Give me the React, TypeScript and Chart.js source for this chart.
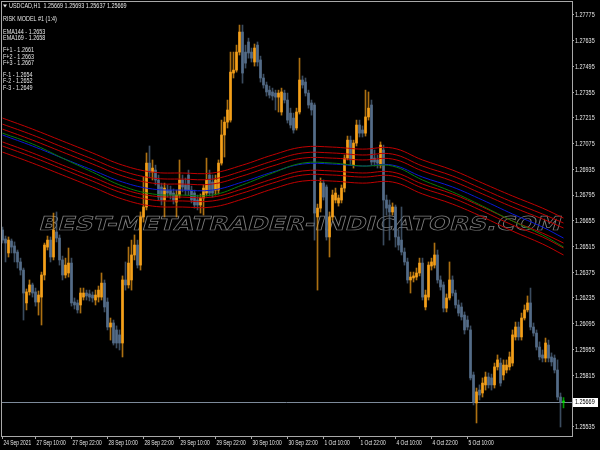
import React, { useEffect, useRef } from "react";
import { Chart, registerables } from "chart.js";

Chart.register(...registerables);

const symbolTitle = "USDCAD,H1";
const quoteOHLC = [1.25669, 1.25693, 1.25637, 1.25669];
const infoLines = [
  "RISK MODEL #1 (1:4)",
  "",
  "EMA144 - 1.2653",
  "EMA169 - 1.2658",
  "",
  "F+1 - 1.2661",
  "F+2 - 1.2663",
  "F+3 - 1.2667",
  "",
  "F-1 - 1.2654",
  "F-2 - 1.2652",
  "F-3 - 1.2649",
];
const watermarkText = "BEST-METATRADER-INDICATORS.COM";
const bidPrice = 1.25669;

const timeLabels = [
  "24 Sep 2021", "27 Sep 10:00", "27 Sep 22:00", "28 Sep 10:00", "28 Sep 22:00",
  "29 Sep 10:00", "29 Sep 22:00", "30 Sep 10:00", "30 Sep 22:00", "1 Oct 10:00",
  "1 Oct 22:00", "4 Oct 10:00", "4 Oct 22:00", "5 Oct 10:00",
];
const timeLabelBars = [0, 11, 23, 35, 47, 59, 71, 83, 95, 107, 119, 131, 143, 155];

const priceTicks = [
  1.27775, 1.27635, 1.27495, 1.27355, 1.27215, 1.27075, 1.26935, 1.26795,
  1.26655, 1.26515, 1.26375, 1.26235, 1.26095, 1.25955, 1.25815, 1.25535,
];
const priceMin = 1.25484;
const priceMax = 1.27851;
const barMin = -0.5;
const barMax = 189.83;

const opens = [
  1.26605,1.26556,1.26480,1.26545,1.26518,1.26485,1.26431,1.26387,1.26208,1.26268,
  1.26306,1.26268,1.26213,1.26240,1.26360,1.26512,1.26550,1.26458,1.26594,1.26561,
  1.26442,1.26360,1.26371,1.26425,1.26213,1.26208,1.26197,1.26240,1.26262,1.26257,
  1.26251,1.26224,1.26240,1.26240,1.26316,1.26213,1.26077,1.26099,1.26061,1.26034,
  1.25990,1.26333,1.26306,1.26333,1.26469,1.26523,1.26414,1.26676,1.26730,1.26969,
  1.26920,1.26931,1.26877,1.26839,1.26768,1.26822,1.26822,1.26806,1.26757,1.26795,
  1.26877,1.26850,1.26904,1.26822,1.26806,1.26768,1.26741,1.26779,1.26806,1.26904,
  1.26866,1.26822,1.26822,1.26969,1.27122,1.27192,1.27203,1.27459,1.27475,1.27573,
  1.27682,1.27573,1.27628,1.27573,1.27519,1.27611,1.27530,1.27432,1.27394,1.27366,
  1.27356,1.27350,1.27328,1.27247,1.27350,1.27312,1.27241,1.27214,1.27160,1.27247,
  1.27421,1.27410,1.27350,1.27296,1.27285,1.26676,1.26724,1.26860,1.26839,1.26567,
  1.26676,1.26768,1.26752,1.26768,1.26833,1.26996,1.27094,1.26958,1.27078,1.27176,
  1.27149,1.27132,1.27220,1.27285,1.26996,1.26986,1.26958,1.27040,1.26768,1.26741,
  1.26703,1.26730,1.26567,1.26550,1.26485,1.26431,1.26333,1.26344,1.26349,1.26371,
  1.26425,1.26186,1.26240,1.26409,1.26414,1.26469,1.26333,1.26306,1.26180,1.26235,
  1.26333,1.26262,1.26197,1.26186,1.26142,1.26115,1.26061,1.25816,1.25664,1.25734,
  1.25718,1.25762,1.25805,1.25800,1.25762,1.25860,1.25881,1.25816,1.25843,1.25860,
  1.25881,1.26023,1.26077,1.26023,1.26126,1.26170,1.26208,1.26077,1.26044,1.25968,
  1.25925,1.25908,1.25979,1.25914,1.25908,1.25843,1.25696,1.25669,
];
const highs = [
  1.26621,1.26572,1.26567,1.26556,1.26540,1.26496,1.26452,1.26398,1.26284,1.26333,
  1.26316,1.26289,1.26273,1.26376,1.26534,1.26572,1.26567,1.26697,1.26703,1.26578,
  1.26463,1.26452,1.26507,1.26452,1.26235,1.26224,1.26289,1.26289,1.26278,1.26278,
  1.26268,1.26278,1.26300,1.26371,1.26333,1.26235,1.26126,1.26115,1.26083,1.26061,
  1.26355,1.26431,1.26512,1.26550,1.26578,1.26550,1.26703,1.26893,1.27024,1.27062,
  1.26986,1.26958,1.26904,1.26860,1.26860,1.26850,1.26844,1.26828,1.26822,1.26986,
  1.26904,1.26888,1.26931,1.26844,1.26822,1.26795,1.26801,1.26850,1.26996,1.26931,
  1.26904,1.26904,1.26986,1.27203,1.27220,1.27312,1.27573,1.27573,1.27611,1.27720,
  1.27720,1.27611,1.27649,1.27595,1.27617,1.27628,1.27551,1.27453,1.27410,1.27388,
  1.27377,1.27366,1.27366,1.27377,1.27366,1.27350,1.27268,1.27241,1.27268,1.27540,
  1.27443,1.27432,1.27366,1.27312,1.27296,1.26746,1.26888,1.26877,1.26850,1.26703,
  1.26822,1.26833,1.26795,1.26850,1.27013,1.27116,1.27116,1.27094,1.27203,1.27203,
  1.27171,1.27366,1.27356,1.27312,1.27040,1.27013,1.27084,1.27067,1.26795,1.26768,
  1.26752,1.26741,1.26605,1.26730,1.26507,1.26452,1.26376,1.26376,1.26398,1.26452,
  1.26452,1.26278,1.26431,1.26452,1.26534,1.26496,1.26355,1.26322,1.26257,1.26431,
  1.26355,1.26278,1.26224,1.26208,1.26159,1.26137,1.26083,1.25832,1.25745,1.25762,
  1.25800,1.25832,1.25827,1.25821,1.25881,1.25925,1.25908,1.25898,1.25898,1.25941,
  1.26061,1.26104,1.26104,1.26153,1.26197,1.26246,1.26289,1.26099,1.26061,1.25996,
  1.25952,1.26017,1.26006,1.25936,1.25925,1.25898,1.25718,1.25693,
];
const lows = [
  1.26534,1.26431,1.26458,1.26480,1.26431,1.26398,1.26360,1.26115,1.26170,1.26251,
  1.26240,1.26191,1.26142,1.26088,1.26333,1.26496,1.26431,1.26442,1.26540,1.26414,
  1.26333,1.26344,1.26349,1.26191,1.26175,1.26153,1.26153,1.26224,1.26224,1.26219,
  1.26213,1.26197,1.26213,1.26224,1.26159,1.26061,1.26006,1.25979,1.25963,1.25952,
  1.25914,1.26278,1.26289,1.26278,1.26442,1.26398,1.26387,1.26648,1.26714,1.26888,
  1.26877,1.26850,1.26768,1.26741,1.26676,1.26784,1.26773,1.26746,1.26676,1.26779,
  1.26812,1.26795,1.26795,1.26752,1.26724,1.26714,1.26697,1.26686,1.26790,1.26790,
  1.26784,1.26795,1.26801,1.26958,1.27002,1.27160,1.27192,1.27432,1.27464,1.27557,
  1.27404,1.27486,1.27540,1.27519,1.27497,1.27497,1.27410,1.27377,1.27334,1.27323,
  1.27312,1.27258,1.27247,1.27230,1.27296,1.27187,1.27160,1.27132,1.27149,1.27236,
  1.27377,1.27334,1.27268,1.27230,1.26550,1.26278,1.26703,1.26768,1.26550,1.26458,
  1.26659,1.26752,1.26735,1.26752,1.26812,1.26986,1.26958,1.26942,1.27062,1.27111,
  1.27111,1.27116,1.27203,1.26958,1.26953,1.26942,1.26942,1.26523,1.26686,1.26550,
  1.26686,1.26512,1.26496,1.26469,1.26414,1.26316,1.26262,1.26322,1.26333,1.26355,
  1.26224,1.26170,1.26224,1.26387,1.26398,1.26316,1.26278,1.26159,1.26159,1.26224,
  1.26246,1.26180,1.26137,1.26115,1.26039,1.26061,1.25789,1.25653,1.25555,1.25680,
  1.25696,1.25734,1.25745,1.25734,1.25745,1.25843,1.25756,1.25789,1.25827,1.25843,
  1.25865,1.26006,1.26006,1.26006,1.26115,1.26159,1.26061,1.26028,1.25952,1.25898,
  1.25887,1.25887,1.25887,1.25865,1.25827,1.25680,1.25533,1.25637,
];
const closes = [
  1.26550,1.26534,1.26550,1.26512,1.26480,1.26431,1.26387,1.26262,1.26268,1.26306,
  1.26262,1.26213,1.26251,1.26360,1.26523,1.26550,1.26458,1.26605,1.26561,1.26442,
  1.26360,1.26414,1.26425,1.26208,1.26197,1.26170,1.26262,1.26262,1.26246,1.26240,
  1.26235,1.26251,1.26278,1.26316,1.26186,1.26077,1.26099,1.25990,1.25990,1.25990,
  1.26333,1.26306,1.26425,1.26469,1.26523,1.26414,1.26676,1.26730,1.26969,1.26920,
  1.26942,1.26877,1.26784,1.26768,1.26833,1.26806,1.26795,1.26768,1.26795,1.26877,
  1.26839,1.26822,1.26822,1.26768,1.26741,1.26741,1.26779,1.26833,1.26877,1.26806,
  1.26806,1.26877,1.26969,1.27122,1.27192,1.27258,1.27464,1.27475,1.27573,1.27682,
  1.27459,1.27513,1.27568,1.27540,1.27595,1.27519,1.27432,1.27394,1.27356,1.27339,
  1.27334,1.27328,1.27350,1.27356,1.27312,1.27203,1.27176,1.27149,1.27247,1.27421,
  1.27394,1.27350,1.27285,1.27258,1.26697,1.26724,1.26860,1.26784,1.26567,1.26676,
  1.26795,1.26806,1.26779,1.26833,1.26996,1.27094,1.26986,1.27078,1.27176,1.27132,
  1.27132,1.27220,1.27268,1.26975,1.26975,1.26969,1.27067,1.26768,1.26724,1.26703,
  1.26730,1.26567,1.26523,1.26485,1.26431,1.26333,1.26349,1.26355,1.26371,1.26425,
  1.26240,1.26251,1.26414,1.26431,1.26469,1.26333,1.26295,1.26180,1.26235,1.26333,
  1.26262,1.26197,1.26153,1.26132,1.26061,1.26077,1.25800,1.25669,1.25724,1.25707,
  1.25772,1.25805,1.25762,1.25762,1.25860,1.25898,1.25772,1.25870,1.25870,1.25914,
  1.26034,1.26077,1.26023,1.26126,1.26170,1.26208,1.26077,1.26044,1.25968,1.25914,
  1.25908,1.25990,1.25908,1.25887,1.25843,1.25696,1.25669,1.25669,
];

const lineBars = [0, 10, 20, 30, 40, 50, 60, 70, 80, 90, 100, 110, 120, 130, 140, 150, 160, 170, 180, 187];
const ema144 = [1.27132,1.27073,1.26996,1.26920,1.26844,1.26801,1.26795,1.26795,1.26850,1.26915,1.26969,1.26969,1.26953,1.26953,1.26877,1.26812,1.26735,1.26654,1.26578,1.26512];
const ema169 = [1.27122,1.27062,1.26996,1.26931,1.26866,1.26828,1.26822,1.26822,1.26866,1.26920,1.26964,1.26964,1.26953,1.26958,1.26893,1.26839,1.26768,1.26692,1.26621,1.26561];
const fPlus3 = [1.27214,1.27154,1.27089,1.27024,1.26958,1.26920,1.26915,1.26915,1.26958,1.27013,1.27056,1.27056,1.27045,1.27051,1.26986,1.26931,1.26860,1.26790,1.26724,1.26670];
const fPlus2 = [1.27181,1.27122,1.27056,1.26991,1.26926,1.26888,1.26882,1.26882,1.26926,1.26980,1.27024,1.27024,1.27013,1.27018,1.26953,1.26899,1.26828,1.26757,1.26692,1.26643];
const fPlus1 = [1.27154,1.27094,1.27029,1.26964,1.26899,1.26860,1.26855,1.26855,1.26899,1.26953,1.26996,1.26996,1.26986,1.26991,1.26926,1.26871,1.26801,1.26730,1.26665,1.26616];
const fMinus1 = [1.27084,1.27024,1.26958,1.26893,1.26828,1.26790,1.26784,1.26784,1.26828,1.26882,1.26926,1.26926,1.26915,1.26920,1.26855,1.26801,1.26730,1.26654,1.26588,1.26534];
const fMinus2 = [1.27062,1.27002,1.26937,1.26871,1.26806,1.26768,1.26763,1.26763,1.26806,1.26860,1.26904,1.26904,1.26893,1.26899,1.26833,1.26779,1.26708,1.26632,1.26567,1.26507];
const fMinus3 = [1.27029,1.26969,1.26904,1.26839,1.26773,1.26735,1.26730,1.26730,1.26773,1.26828,1.26871,1.26871,1.26860,1.26866,1.26801,1.26746,1.26676,1.26599,1.26529,1.26469];

const BULL = "#f5a01a";
const BEAR = "#546c88";
const DOJI = "#00e000";
const RED = "#c00000";
const TEXT = "#e6e6e6";
const FONT = "'Liberation Sans', Arial, sans-serif";
const FONT_SIZE = 6.8;
const SQUEEZE = 0.8;
const X_SQUEEZE = 0.72;

function candleColor(i: number, alpha: number) {
  const c = closes[i] > opens[i] ? BULL : closes[i] < opens[i] ? BEAR : DOJI;
  if (alpha >= 1) return c;
  const r = parseInt(c.slice(1, 3), 16), g = parseInt(c.slice(3, 5), 16), b = parseInt(c.slice(5, 7), 16);
  return `rgba(${r},${g},${b},${alpha})`;
}

function lineDataset(label: string, values: number[], color: string) {
  return {
    type: "line" as const,
    label,
    data: lineBars.map((b, k) => ({ x: b, y: values[k] })),
    borderColor: color,
    borderWidth: 1,
    pointRadius: 0,
    tension: 0.4,
    fill: false,
    order: 0,
  };
}

function squeezedText(ctx: CanvasRenderingContext2D, text: string, x: number, y: number, sx: number) {
  ctx.save();
  ctx.translate(x, y);
  ctx.scale(sx, 1);
  ctx.fillText(text, 0, 0);
  ctx.restore();
}

const mtPlugin = {
  id: "mtOverlay",
  beforeDatasetsDraw(chart: any) {
    const { ctx, chartArea: a, scales } = chart;
    ctx.save();
    ctx.beginPath();
    ctx.rect(a.left, a.top, a.right - a.left, a.bottom - a.top);
    ctx.clip();
    // watermark
    ctx.font = `bold 19px "DejaVu Sans"`;
    const w = ctx.measureText(watermarkText).width;
    const sx = 522 / w;
    ctx.setTransform(sx, 0, -0.28, 1, a.left + 37, 230);
    ctx.strokeStyle = "#7c7c7c";
    ctx.lineWidth = 0.7;
    ctx.textBaseline = "alphabetic";
    ctx.strokeText(watermarkText, 0, 0);
    ctx.setTransform(1, 0, 0, 1, 0, 0);
    // bid line
    const yb = Math.round(scales.y.getPixelForValue(bidPrice)) + 0.5;
    ctx.strokeStyle = "#7d8a9a";
    ctx.lineWidth = 1;
    ctx.beginPath();
    ctx.moveTo(a.left, yb);
    ctx.lineTo(a.right, yb);
    ctx.stroke();
    ctx.restore();
  },
  afterDraw(chart: any) {
    const { ctx, chartArea: a, scales } = chart;
    ctx.save();
    // plot border
    ctx.strokeStyle = "#a8a8a8";
    ctx.lineWidth = 1;
    ctx.strokeRect(a.left + 0.5, a.top + 0.5, a.right - a.left, a.bottom - a.top);

    ctx.font = `${FONT_SIZE}px ${FONT}`;
    ctx.textAlign = "left";
    ctx.textBaseline = "middle";
    ctx.fillStyle = TEXT;
    // price axis labels (from the scale's own ticks)
    const ys = scales.y;
    ys.ticks.forEach((t: any) => {
      const py = ys.getPixelForValue(t.value);
      squeezedText(ctx, t.label, a.right + 3, py + 0.5, SQUEEZE);
    });
    // time axis labels (from the scale's own ticks)
    const xs = scales.x;
    xs.ticks.forEach((t: any) => {
      const px = xs.getPixelForValue(t.value);
      squeezedText(ctx, t.label, Math.max(px, a.left) + 1, a.bottom + 7.5, X_SQUEEZE);
    });

    // bid label box
    const yb = Math.round(ys.getPixelForValue(bidPrice));
    ctx.fillStyle = "#ffffff";
    ctx.fillRect(a.right + 1, yb - 4, 25, 9);
    ctx.fillStyle = "#000000";
    squeezedText(ctx, bidPrice.toFixed(5), a.right + 3, yb + 0.5, SQUEEZE);

    // header
    ctx.fillStyle = TEXT;
    ctx.beginPath();
    ctx.moveTo(a.left + 2, 4.5);
    ctx.lineTo(a.left + 6, 4.5);
    ctx.lineTo(a.left + 4, 7.5);
    ctx.closePath();
    ctx.fill();
    squeezedText(ctx, symbolTitle + "  " + quoteOHLC.map((v) => v.toFixed(5)).join(" "), a.left + 8, 6.5, SQUEEZE);
    infoLines.forEach((t, k) => {
      if (t) squeezedText(ctx, t, a.left + 2, 19.5 + k * 6.2, SQUEEZE);
    });
    ctx.restore();
  },
};

export default function App() {
  const ref = useRef<HTMLCanvasElement>(null);
  useEffect(() => {
    const canvas = ref.current;
    if (!canvas) return;
    const idx = opens.map((_, i) => i);
    const chart = new Chart(canvas, {
      type: "bar",
      data: {
        datasets: [
          lineDataset("EMA144", ema144, "#0a7a0a"),
          lineDataset("EMA169", ema169, "#0a18d8"),
          lineDataset("F+3", fPlus3, RED),
          lineDataset("F+2", fPlus2, RED),
          lineDataset("F+1", fPlus1, RED),
          lineDataset("F-1", fMinus1, RED),
          lineDataset("F-2", fMinus2, RED),
          lineDataset("F-3", fMinus3, RED),
          {
            type: "bar" as const,
            label: "body",
            data: idx.map((i) => ({ x: i, y: [opens[i], closes[i]] })) as any,
            backgroundColor: (c: any) => candleColor(c.dataIndex, 1),
            barThickness: 2,
            minBarLength: 1,
            grouped: false,
            order: 1,
          },
          {
            type: "bar" as const,
            label: "wick",
            data: idx.map((i) => ({ x: i, y: [lows[i], highs[i]] })) as any,
            backgroundColor: (c: any) => candleColor(c.dataIndex, 0.7),
            barThickness: 1,
            grouped: false,
            order: 2,
          },
        ] as any,
      },
      options: {
        responsive: false,
        maintainAspectRatio: false,
        animation: false,
        devicePixelRatio: 1,
        layout: { padding: { left: 1, top: 1, right: 0, bottom: 0 } },
        plugins: { legend: { display: false }, tooltip: { enabled: false }, title: { display: false } },
        scales: {
          x: {
            type: "linear",
            min: barMin,
            max: barMax,
            offset: false,
            afterBuildTicks: (s: any) => {
              s.ticks = timeLabelBars.map((v) => ({ value: v }));
            },
            afterFit: (s: any) => {
              s.height = 14;
            },
            grid: { drawOnChartArea: false, drawTicks: true, tickLength: 3, color: "#a8a8a8", offset: false },
            border: { display: false },
            ticks: {
              display: false,
              autoSkip: false,
              maxRotation: 0,
              minRotation: 0,
              callback: (_v: any, i: number) => timeLabels[i],
            },
          },
          y: {
            type: "linear",
            position: "right",
            min: priceMin,
            max: priceMax,
            afterBuildTicks: (s: any) => {
              s.ticks = priceTicks.map((v) => ({ value: v }));
            },
            afterFit: (s: any) => {
              s.width = 28;
            },
            grid: { drawOnChartArea: false, drawTicks: true, tickLength: 2, color: "#a8a8a8" },
            border: { display: false },
            ticks: {
              display: false,
              callback: (v: any) => Number(v).toFixed(5),
            },
          },
        },
      } as any,
      plugins: [mtPlugin],
    });
    return () => chart.destroy();
  }, []);
  return (
    <div style={{ position: "fixed", left: 0, top: 0, width: 600, height: 450, background: "#000" }}>
      <canvas ref={ref} width={600} height={450} style={{ display: "block", width: 600, height: 450 }} />
    </div>
  );
}
